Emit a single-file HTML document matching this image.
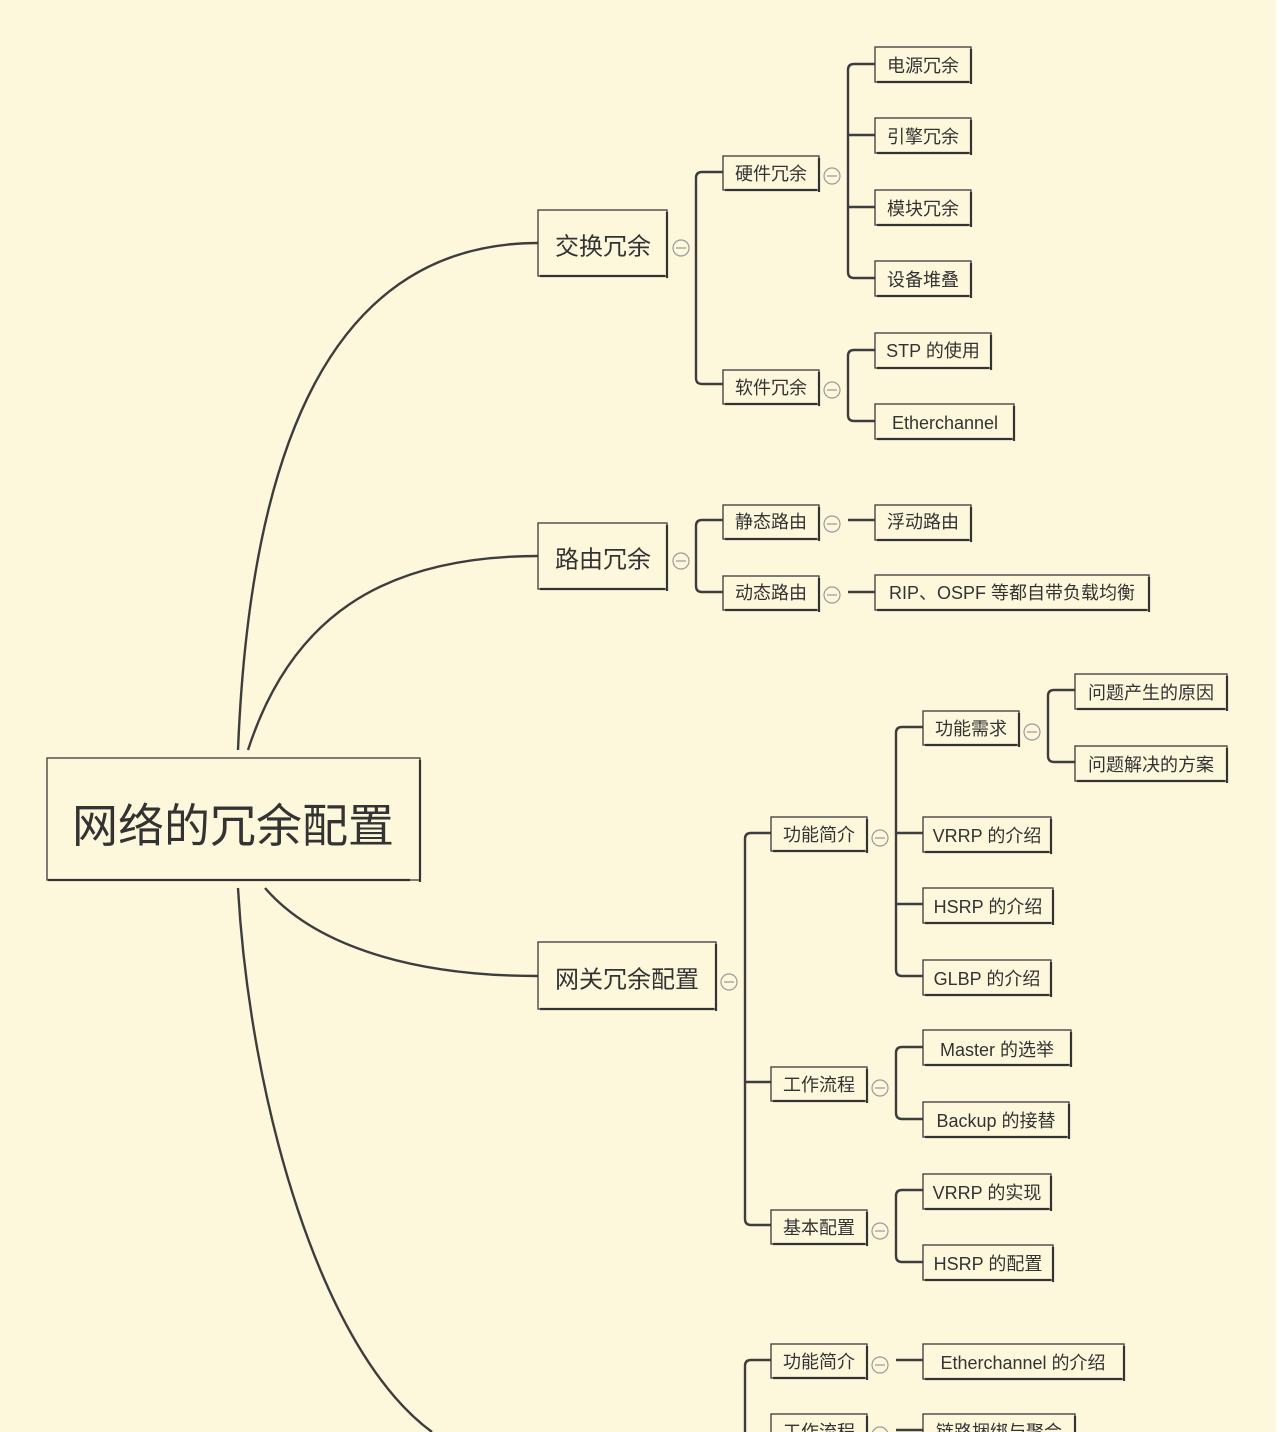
<!DOCTYPE html>
<html><head><meta charset="utf-8"><style>
html,body{margin:0;padding:0;background:#fdf8dc}
svg{display:block}
text{font-family:"Liberation Sans","Noto Sans CJK SC",sans-serif;fill:#333;dominant-baseline:central;text-anchor:middle}
.b{fill:#fdf8dc;stroke:#3a3a3a;stroke-width:1.3}
.bb{stroke:#333;stroke-width:2.2;fill:none}
.l{stroke:#3d3d3d;stroke-width:2.4;fill:none}
.c{fill:none;stroke:#999;stroke-width:1.2}
</style></head><body>
<svg width="1280" height="1432" viewBox="0 0 1280 1432" xmlns="http://www.w3.org/2000/svg">
<rect width="1280" height="1432" fill="#fdf8dc"/>
<rect x="1276" y="0" width="4" height="1432" fill="#fff"/>
<!-- main curves -->
<path class="l" d="M238 750 C250 450 330 243 538 243" stroke-width="3"/>
<path class="l" d="M248 750 C290 620 380 556 538 556" stroke-width="3"/>
<path class="l" d="M265 888 C310 940 400 976 538 976" stroke-width="3"/>
<path class="l" d="M238 888 C250 1100 320 1350 432 1432" stroke-width="3"/>
<!-- elbows level1 -->
<path class="l" d="M723 172 H702 Q696 172 696 178 V378 Q696 384 702 384 H723"/>
<path class="l" d="M723 520 H702 Q696 520 696 526 V586 Q696 592 702 592 H723"/>
<path class="l" d="M771 833 H751 Q745 833 745 839 V1219 Q745 1225 751 1225 H771 M745 1082 H771"/>
<path class="l" d="M771 1360 H751 Q745 1360 745 1366 V1432"/>
<!-- level2 elbows -->
<path class="l" d="M875 64 H854 Q848 64 848 70 V272 Q848 278 854 278 H875 M848 135 H875 M848 207 H875"/>
<path class="l" d="M875 350 H854 Q848 350 848 356 V415 Q848 421 854 421 H875"/>
<path class="l" d="M848 520 H875"/>
<path class="l" d="M848 592 H875"/>
<path class="l" d="M923 727 H902 Q896 727 896 733 V970 Q896 976 902 976 H923 M896 833 H923 M896 904 H923"/>
<path class="l" d="M923 1047 H902 Q896 1047 896 1053 V1113 Q896 1119 902 1119 H923"/>
<path class="l" d="M923 1190 H902 Q896 1190 896 1196 V1256 Q896 1262 902 1262 H923"/>
<path class="l" d="M1075 690 H1054 Q1048 690 1048 696 V756 Q1048 762 1054 762 H1075"/>
<path class="l" d="M896 1360 H923"/>
<path class="l" d="M896 1430 H923"/>
<!-- root -->
<rect class="b" x="47" y="758" width="373" height="122" stroke-width="1.8"/>
<path class="bb" d="M48 880 H410 M420 760 V882" stroke-width="2.6"/>
<text x="233" y="826" font-size="46">网络的冗余配置</text>
<!-- level1 -->
<g>
<rect class="b" x="538" y="210" width="129" height="66"/><path class="bb" d="M540 276 H665 M667 212 V278"/><text x="603" y="247" font-size="24">交换冗余</text><circle class="c" cx="681" cy="248" r="8"/><path class="c" d="M676 248 H686"/>
<rect class="b" x="538" y="523" width="129" height="66"/><path class="bb" d="M540 589 H665 M667 525 V591"/><text x="603" y="560" font-size="24">路由冗余</text><circle class="c" cx="681" cy="561" r="8"/><path class="c" d="M676 561 H686"/>
<rect class="b" x="538" y="942" width="178" height="67"/><path class="bb" d="M540 1009 H714 M716 944 V1011"/><text x="627" y="980" font-size="24">网关冗余配置</text><circle class="c" cx="729" cy="982" r="8"/><path class="c" d="M724 982 H734"/>
</g>
<!-- level2 (w=96,h=34) -->
<g font-size="18">
<rect class="b" x="723" y="156" width="96" height="34"/><path class="bb" d="M725 190 H817 M819 158 V192"/><text x="771" y="174" font-size="18">硬件冗余</text><circle class="c" cx="832" cy="176" r="8"/><path class="c" d="M827 176 H837"/>
<rect class="b" x="723" y="370" width="96" height="34"/><path class="bb" d="M725 404 H817 M819 372 V406"/><text x="771" y="388" font-size="18">软件冗余</text><circle class="c" cx="832" cy="390" r="8"/><path class="c" d="M827 390 H837"/>
<rect class="b" x="723" y="505" width="96" height="34"/><path class="bb" d="M725 539 H817 M819 507 V541"/><text x="771" y="522" font-size="18">静态路由</text><circle class="c" cx="832" cy="524" r="8"/><path class="c" d="M827 524 H837"/>
<rect class="b" x="723" y="576" width="96" height="34"/><path class="bb" d="M725 610 H817 M819 578 V612"/><text x="771" y="593" font-size="18">动态路由</text><circle class="c" cx="832" cy="595" r="8"/><path class="c" d="M827 595 H837"/>
<rect class="b" x="771" y="817" width="96" height="34"/><path class="bb" d="M773 851 H865 M867 819 V853"/><text x="819" y="835" font-size="18">功能简介</text><circle class="c" cx="880" cy="838" r="8"/><path class="c" d="M875 838 H885"/>
<rect class="b" x="771" y="1067" width="96" height="34"/><path class="bb" d="M773 1101 H865 M867 1069 V1103"/><text x="819" y="1085" font-size="18">工作流程</text><circle class="c" cx="880" cy="1088" r="8"/><path class="c" d="M875 1088 H885"/>
<rect class="b" x="771" y="1210" width="96" height="34"/><path class="bb" d="M773 1244 H865 M867 1212 V1246"/><text x="819" y="1228" font-size="18">基本配置</text><circle class="c" cx="880" cy="1231" r="8"/><path class="c" d="M875 1231 H885"/>
<rect class="b" x="923" y="711" width="96" height="34"/><path class="bb" d="M925 745 H1017 M1019 713 V747"/><text x="971" y="729" font-size="18">功能需求</text><circle class="c" cx="1032" cy="732" r="8"/><path class="c" d="M1027 732 H1037"/>
<rect class="b" x="771" y="1344" width="96" height="34"/><path class="bb" d="M773 1378 H865 M867 1346 V1380"/><text x="819" y="1362" font-size="18">功能简介</text><circle class="c" cx="880" cy="1365" r="8"/><path class="c" d="M875 1365 H885"/>
<rect class="b" x="771" y="1414" width="96" height="34"/><path class="bb" d="M867 1416 V1432"/><text x="819" y="1432" font-size="18">工作流程</text><circle class="c" cx="880" cy="1435" r="8"/>
</g>
<!-- leaves -->
<g>
<rect class="b" x="875" y="47" width="96" height="35"/><path class="bb" d="M877 82 H969 M971 49 V84"/><text x="923" y="66" font-size="18">电源冗余</text>
<rect class="b" x="875" y="118" width="96" height="35"/><path class="bb" d="M877 153 H969 M971 120 V155"/><text x="923" y="137" font-size="18">引擎冗余</text>
<rect class="b" x="875" y="190" width="96" height="35"/><path class="bb" d="M877 225 H969 M971 192 V227"/><text x="923" y="209" font-size="18">模块冗余</text>
<rect class="b" x="875" y="261" width="96" height="35"/><path class="bb" d="M877 296 H969 M971 263 V298"/><text x="923" y="280" font-size="18">设备堆叠</text>
<rect class="b" x="875" y="333" width="116" height="35"/><path class="bb" d="M877 368 H989 M991 335 V370"/><text x="933" y="351" font-size="18">STP 的使用</text>
<rect class="b" x="875" y="404" width="139" height="35"/><path class="bb" d="M877 439 H1012 M1014 406 V441"/><text x="945" y="423" font-size="18">Etherchannel</text>
<rect class="b" x="875" y="505" width="96" height="35"/><path class="bb" d="M877 540 H969 M971 507 V542"/><text x="923" y="522" font-size="18">浮动路由</text>
<rect class="b" x="875" y="575" width="274" height="35"/><path class="bb" d="M877 610 H1147 M1149 577 V612"/><text x="1012" y="593" font-size="18">RIP、OSPF 等都自带负载均衡</text>
<rect class="b" x="1075" y="674" width="152" height="35"/><path class="bb" d="M1077 709 H1225 M1227 676 V711"/><text x="1151" y="693" font-size="18">问题产生的原因</text>
<rect class="b" x="1075" y="746" width="152" height="35"/><path class="bb" d="M1077 781 H1225 M1227 748 V783"/><text x="1151" y="765" font-size="18">问题解决的方案</text>
<rect class="b" x="923" y="817" width="128" height="35"/><path class="bb" d="M925 852 H1049 M1051 819 V854"/><text x="987" y="836" font-size="18">VRRP 的介绍</text>
<rect class="b" x="923" y="888" width="130" height="35"/><path class="bb" d="M925 923 H1051 M1053 890 V925"/><text x="988" y="907" font-size="18">HSRP 的介绍</text>
<rect class="b" x="923" y="960" width="128" height="35"/><path class="bb" d="M925 995 H1049 M1051 962 V997"/><text x="987" y="979" font-size="18">GLBP 的介绍</text>
<rect class="b" x="923" y="1030" width="148" height="35"/><path class="bb" d="M925 1065 H1069 M1071 1032 V1067"/><text x="997" y="1050" font-size="18">Master 的选举</text>
<rect class="b" x="923" y="1102" width="146" height="35"/><path class="bb" d="M925 1137 H1067 M1069 1104 V1139"/><text x="996" y="1121" font-size="18">Backup 的接替</text>
<rect class="b" x="923" y="1174" width="128" height="35"/><path class="bb" d="M925 1209 H1049 M1051 1176 V1211"/><text x="987" y="1193" font-size="18">VRRP 的实现</text>
<rect class="b" x="923" y="1245" width="130" height="35"/><path class="bb" d="M925 1280 H1051 M1053 1247 V1282"/><text x="988" y="1264" font-size="18">HSRP 的配置</text>
<rect class="b" x="923" y="1344" width="201" height="35"/><path class="bb" d="M925 1379 H1122 M1124 1346 V1381"/><text x="1023" y="1363" font-size="18">Etherchannel 的介绍</text>
<rect class="b" x="923" y="1414" width="152" height="35"/><path class="bb" d="M1075 1416 V1432"/><text x="999" y="1432" font-size="18">链路捆绑与聚合</text>
</g>
</svg>
</body></html>
